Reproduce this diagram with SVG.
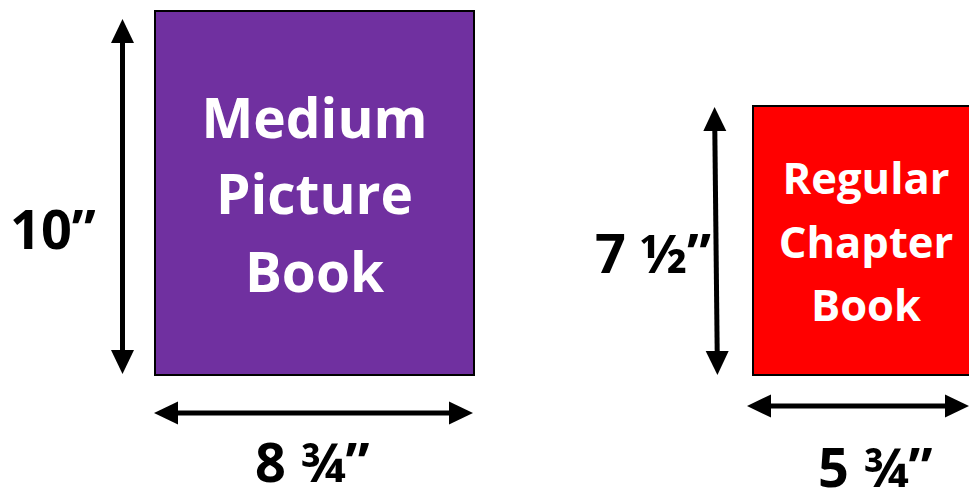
<svg xmlns="http://www.w3.org/2000/svg" width="969" height="489" viewBox="0 0 969 489">
<style>
.book{stroke:#000;stroke-width:2}
.title{font-family:"Open Sans","Liberation Sans",sans-serif;font-weight:bold;fill:#fff;text-anchor:middle}
.dim{font-family:"Open Sans","Liberation Sans",sans-serif;font-weight:bold;fill:#000;font-size:54px}
.arrow{stroke:#000;stroke-width:5;fill:none;marker-start:url(#ah);marker-end:url(#ah)}
</style>
<defs>
<marker id="ah" markerUnits="userSpaceOnUse" markerWidth="24" markerHeight="24" refX="2" refY="11.5" orient="auto-start-reverse" viewBox="0 0 24 23" overflow="visible">
<path d="M0,0 L24,11.5 L0,23 Z" fill="#000"/>
</marker>
</defs>
<rect width="969" height="489" fill="#fff"/>
<g id="medium-picture-book">
<rect class="book" x="155" y="11" width="319" height="364" fill="#7030A0"/>
<text class="title" font-size="55" x="314.5" y="138">Medium</text>
<text class="title" font-size="55" x="314.5" y="214">Picture</text>
<text class="title" font-size="55" x="314.5" y="292">Book</text>
</g>
<g id="regular-chapter-book">
<rect class="book" x="753" y="106" width="230" height="269" fill="#FF0000"/>
<text class="title" font-size="43.5" x="866" y="194">Regular</text>
<text class="title" font-size="43.5" x="866" y="258">Chapter</text>
<text class="title" font-size="43.5" x="866" y="321">Book</text>
</g>
<g id="connectors">
<line class="arrow" x1="122.5" y1="41" x2="122.5" y2="352"/>
<line class="arrow" x1="176" y1="413" x2="451" y2="413"/>
<line class="arrow" x1="714.8" y1="129" x2="717.2" y2="353"/>
<line class="arrow" x1="769" y1="406" x2="947" y2="406"/>
</g>
<g id="labels">
<text class="dim" x="10" y="249">10”</text>
<text class="dim" x="255" y="482">8 ¾”</text>
<text class="dim" x="595" y="273">7 ½”</text>
<text class="dim" x="818" y="487">5 ¾”</text>
</g>
</svg>
